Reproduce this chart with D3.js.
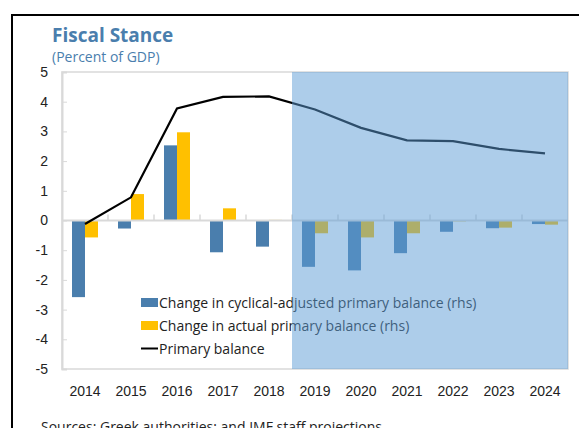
<!DOCTYPE html>
<html>
<head>
<meta charset="utf-8">
<script src="https://cdn.jsdelivr.net/npm/d3@7"></script>
<style>
  body { margin: 0; background: #fff; }
  svg { display: block; font-family: "Open Sans", sans-serif; }
</style>
</head>
<body>
<svg width="579" height="428"></svg>
<script>
var years = ["2014","2015","2016","2017","2018","2019","2020","2021","2022","2023","2024"];
var cyclicalChange = [-2.58, -0.27, 2.53, -1.07, -0.88, -1.56, -1.68, -1.1, -0.38, -0.26, -0.12];
var actualChange = [-0.57, 0.89, 2.97, 0.41, 0.02, -0.43, -0.57, -0.43, -0.03, -0.24, -0.14];
var primaryBalance = [-0.12, 0.78, 3.77, 4.16, 4.18, 3.74, 3.12, 2.7, 2.67, 2.41, 2.26];
var yTicks = [-5, -4, -3, -2, -1, 0, 1, 2, 3, 4, 5];
var projectionStart = "2019";

var svg = d3.select("svg");
var margin = {left: 62, right: 11, top: 72, bottom: 59};
var width = 579 - margin.left - margin.right;
var height = 428 - margin.top - margin.bottom;

// outer frame
svg.append("rect")
    .attr("x", 12).attr("y", 15).attr("width", 620).attr("height", 500)
    .attr("fill", "none").attr("stroke", "#000").attr("stroke-width", 2);

svg.append("text").attr("x", 52).attr("y", 42)
    .style("font-size", "19px").style("font-weight", "bold").style("fill", "#4a7ead")
    .text("Fiscal Stance");
svg.append("text").attr("x", 52).attr("y", 62)
    .style("font-size", "14px").style("fill", "#4a7ead")
    .text("(Percent of GDP)");

var g = svg.append("g").attr("transform", "translate(" + margin.left + "," + margin.top + ")");

var x = d3.scaleBand().domain(years).range([0, width]);
var y = d3.scaleLinear().domain([-5, 5]).range([height, 0]);

// plot border
g.append("rect").attr("width", width).attr("height", height)
    .attr("fill", "none").attr("stroke", "#d9d9d9").attr("stroke-width", 1.5);

// y axis
var yAxis = g.append("g").call(d3.axisLeft(y).tickValues(yTicks).tickSize(-5).tickPadding(14)
    .tickFormat(function(d) { return String(d); }));
yAxis.select(".domain").attr("stroke", "#d9d9d9").attr("stroke-width", 2);
yAxis.selectAll(".tick line").attr("stroke", "#d9d9d9");
yAxis.selectAll("text").style("font-size", "14px").style("fill", "#222").attr("text-anchor", "end");

// x labels
g.append("g").attr("transform", "translate(0," + height + ")")
  .call(d3.axisBottom(x).tickSize(0).tickPadding(17))
  .call(function(a) {
      a.select(".domain").remove();
      a.selectAll("text").style("font-size", "14px").style("fill", "#222");
  });

var barW = 13;
g.append("g").selectAll("rect").data(years).enter().append("rect")
    .attr("x", function(d) { return x(d) + x.bandwidth() / 2 - barW; })
    .attr("y", function(d, i) { return y(Math.max(0, cyclicalChange[i])); })
    .attr("width", barW)
    .attr("height", function(d, i) { return Math.abs(y(cyclicalChange[i]) - y(0)); })
    .attr("fill", "#4a7ead");
g.append("g").selectAll("rect").data(years).enter().append("rect")
    .attr("x", function(d) { return x(d) + x.bandwidth() / 2; })
    .attr("y", function(d, i) { return y(Math.max(0, actualChange[i])); })
    .attr("width", barW)
    .attr("height", function(d, i) { return Math.max(0.8, Math.abs(y(actualChange[i]) - y(0))); })
    .attr("fill", "#ffc000");

// zero line with ticks at category boundaries
g.append("line").attr("x1", 0).attr("x2", width).attr("y1", y(0)).attr("y2", y(0))
    .attr("stroke", "#d9d9d9").attr("stroke-width", 2);
g.append("g").selectAll("line").data(years.slice(1)).enter().append("line")
    .attr("x1", function(d) { return x(d); }).attr("x2", function(d) { return x(d); })
    .attr("y1", y(0) - 6).attr("y2", y(0))
    .attr("stroke", "#d9d9d9").attr("stroke-width", 1.5);

var line = d3.line()
    .x(function(d, i) { return x(years[i]) + x.bandwidth() / 2; })
    .y(function(d) { return y(d); });
g.append("path").datum(primaryBalance).attr("d", line)
    .attr("fill", "none").attr("stroke", "#000").attr("stroke-width", 2.2);

// legend
var legend = g.append("g").attr("transform", "translate(79,226)");
legend.append("rect").attr("x", 0).attr("y", 0).attr("width", 17).attr("height", 9).attr("fill", "#4a7ead");
legend.append("rect").attr("x", 0).attr("y", 23).attr("width", 17).attr("height", 9).attr("fill", "#ffc000");
legend.append("line").attr("x1", 0).attr("x2", 17).attr("y1", 50.5).attr("y2", 50.5).attr("stroke", "#000").attr("stroke-width", 2);
var labels = ["Change in cyclical-adjusted primary balance (rhs)", "Change in actual primary balance (rhs)", "Primary balance"];
legend.selectAll("text.lab").data(labels).enter().append("text")
    .attr("x", 18).attr("y", function(d, i) { return 10 + i * 23; })
    .style("font-size", "14px").style("fill", "#222")
    .text(function(d) { return d; });

// projection shading
g.append("rect")
    .attr("x", x(projectionStart)).attr("y", 0)
    .attr("width", width - x(projectionStart)).attr("height", height)
    .attr("fill", "#5b9bd5").attr("opacity", 0.5);

svg.append("text").attr("x", 41).attr("y", 432)
    .style("font-size", "14px").style("fill", "#222")
    .text("Sources: Greek authorities; and IMF staff projections.");
</script>
</body>
</html>
